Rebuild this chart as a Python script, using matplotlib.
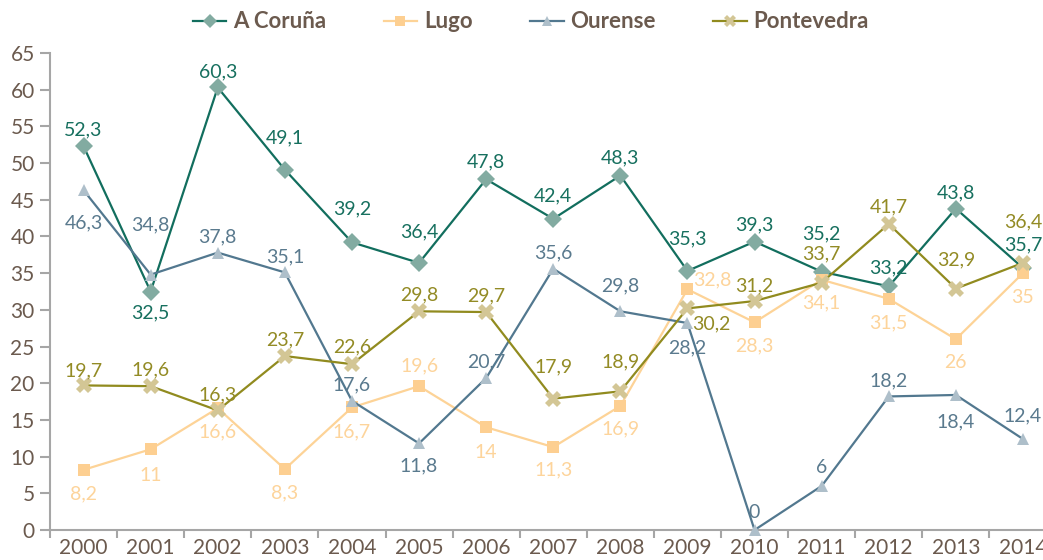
import matplotlib
matplotlib.use("Agg")
import matplotlib.pyplot as plt

plt.rcParams['font.family'] = ['Lato', 'DejaVu Sans']

years = [str(y) for y in range(2000, 2015)]

coruna = [52.3, 32.5, 60.3, 49.1, 39.2, 36.4, 47.8, 42.4, 48.3, 35.3, 39.3, 35.2, 33.2, 43.8, 35.7]
lugo = [8.2, 11, 16.6, 8.3, 16.7, 19.6, 14, 11.3, 16.9, 32.8, 28.3, 34.1, 31.5, 26, 35]
ourense = [46.3, 34.8, 37.8, 35.1, 17.6, 11.8, 20.7, 35.6, 29.8, 28.2, 0, 6, 18.2, 18.4, 12.4]
pontevedra = [19.7, 19.6, 16.3, 23.7, 22.6, 29.8, 29.7, 17.9, 18.9, 30.2, 31.2, 33.7, 41.7, 32.9, 36.4]

# label offsets in pixels (dx, dy with dy>0 = below marker)
coruna_dy = [-16, 21, -16, -32, -33, -31, -17, -23, -18, -32, -17, -38, -18, -16, -23]
lugo_dy = [24, 26, 24, 24, 24, -20, 25, 23, 23, -9, 24, 23, 24, 23, 24]
lugo_dx = [0] * 9 + [25] + [0] * 5
ourense_dy = [33, -50, -16, -16, -16, 22, -16, -16, -25, 25, -17, -18, -16, 27, -23]
ponte_dy = [-15, -16, -16, -16, -17, -16, -16, -32, -29, 15, -15, -29, -17, -29, -41]
ponte_dx = [0] * 9 + [24] + [0] * 5

brown = '#6b5a4e'
axis_gray = '#a6a6a6'

series = [
    ('A Coruña', coruna, [0] * 15, coruna_dy, '#126e5e', '#82aba1', '#17705f', 'D', 9),
    ('Lugo', lugo, lugo_dx, lugo_dy, '#fdd397', '#fdcf91', '#fdd49b', 's', 9),
    ('Ourense', ourense, [0] * 15, ourense_dy, '#52788f', '#aebfca', '#5a7a8e', '^', 9),
    ('Pontevedra', pontevedra, ponte_dx, ponte_dy, '#918b1f', '#d3c695', '#938b25', 'X', 11),
]

fig = plt.figure(figsize=(10.43, 5.6), dpi=100)
ax = fig.add_axes([50 / 1043, 30 / 560, 15 * 67.1 / 1043, 477 / 560])

x = list(range(len(years)))
for name, vals, dxs, dys, lc, mc, tc, mk, ms in series:
    ax.plot(x, vals, color=lc, lw=1.6, marker=mk, markersize=ms,
            markerfacecolor=mc, markeredgewidth=0, label=name, clip_on=False, zorder=3)
    for i, v in enumerate(vals):
        ax.annotate(f"{v:g}".replace('.', ','), (i, v), xytext=(dxs[i], -dys[i]),
                    textcoords='offset pixels', ha='center', va='center',
                    fontsize=14, color=tc, zorder=4)

ax.set_xlim(-0.5, 14.5)
ax.set_ylim(0, 65)
ax.set_yticks(range(0, 66, 5))
ax.set_xticks(x)
ax.set_xticklabels(years)
ax.set_xticks([i - 0.5 for i in range(16)], minor=True)
ax.tick_params(axis='x', which='major', length=0, pad=6, labelsize=15, labelcolor=brown)
ax.tick_params(axis='x', which='minor', length=6, width=1.5, color=axis_gray)
ax.tick_params(axis='y', length=7, width=1.5, color=axis_gray, pad=4, labelsize=15, labelcolor=brown)

for s in ['top', 'right']:
    ax.spines[s].set_visible(False)
for s in ['left', 'bottom']:
    ax.spines[s].set_color(axis_gray)
    ax.spines[s].set_linewidth(1.5)

leg = fig.legend(loc='center', bbox_to_anchor=(0.509, 0.961), ncol=4, frameon=False,
                 prop={'weight': 'bold', 'size': 16}, labelcolor=brown, markerscale=0.8,
                 handlelength=1.5, columnspacing=2.6, handletextpad=0.3)

fig.savefig('out.png', dpi=100)
